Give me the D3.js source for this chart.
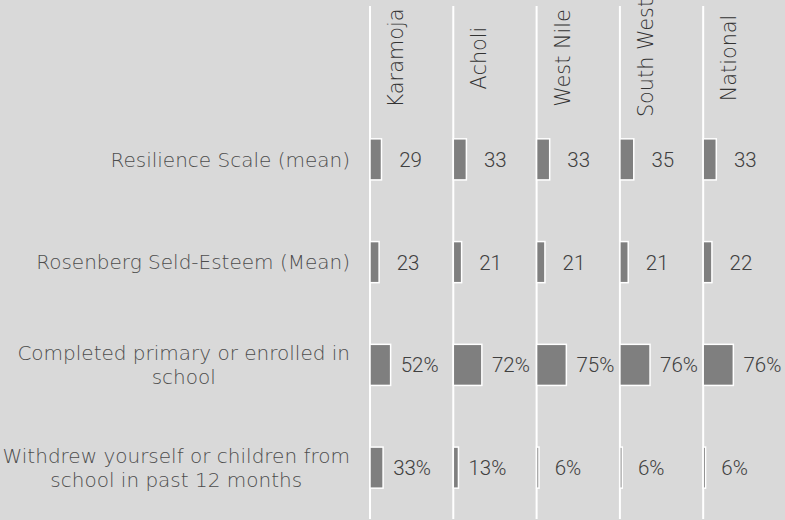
<!DOCTYPE html>
<html>
<head>
<meta charset="utf-8">
<script src="https://cdn.jsdelivr.net/npm/d3@7"></script>
<style>
  html, body { margin: 0; padding: 0; background: #d9d9d9; }
  svg { display: block; }
</style>
</head>
<body>
<svg id="chart" width="785" height="520"></svg>
<script>
// regions across the top, indicators down the side
const regions = ["Karamoja", "Acholi", "West Nile", "South West", "National"];
const indicatorLines = [
    ["Resilience Scale (mean)"],
    ["Rosenberg Seld-Esteem (Mean)"],
    ["Completed primary or enrolled in", "school"],
    ["Withdrew yourself or children from", "school in past 12 months"]
];
const resilience = [29, 33, 33, 35, 33];
const selfEsteem = [23, 21, 21, 21, 22];
const completed = [52, 72, 75, 76, 76];
const withdrew = [33, 13, 6, 6, 6];
const units = ["", "", "%", "%"];

const rows = [resilience, selfEsteem, completed, withdrew];

let svg = d3.select("#chart");

const plotLeft = 370, panelW = 83.3; // one panel per region
const plotTop = 6, headerBottom = 108, plotBottom = 519;

let xPanel = d3.scaleBand()
    .domain(regions)
    .range([plotLeft, plotLeft + panelW * regions.length]);

let xVal = d3.scaleLinear() //same value scale inside every panel
    .domain([0, 210])
    .range([0, panelW]);

let y = d3.scaleBand()
    .domain(d3.range(rows.length))
    .range([headerBottom, plotBottom])
    .paddingInner(0.6)
    .paddingOuter(0.3);

//white separators
svg.append("g").selectAll("line")
    .data(regions)
    .enter().append("line")
    .attr("x1", d => xPanel(d))
    .attr("x2", d => xPanel(d))
    .attr("y1", plotTop)
    .attr("y2", plotBottom)
    .attr("stroke", "#ffffff")
    .attr("stroke-width", 2);

//column headers, rotated
svg.append("g").selectAll("text")
    .data(regions)
    .enter().append("text")
    .attr("transform", d => `translate(${xPanel(d) + 33},${(plotTop + headerBottom) / 2 + 1}) rotate(-90)`)
    .attr("text-anchor", "middle")
    .attr("font-family", "'DejaVu Sans', sans-serif")
    .attr("font-weight", 200)
    .attr("font-size", 20.8)
    .attr("fill", "#333333")
    .text(d => d);

//row labels: block right aligned, lines centred inside it
let labelG = svg.append("g")
    .attr("font-family", "'DejaVu Sans', sans-serif")
    .attr("font-weight", 200)
    .attr("font-size", 20)
    .attr("fill", "#4d4d4d");

indicatorLines.forEach((lines, i) => {
    const cy = y(i) + y.bandwidth() / 2;
    const lineH = 24;
    let t = labelG.append("text").attr("text-anchor", "middle");
    let spans = t.selectAll("tspan")
        .data(lines)
        .enter().append("tspan")
        .attr("y", (d, k) => cy + (k - (lines.length - 1) / 2) * lineH)
        .attr("dy", "0.36em")
        .text(d => d);
    let maxW = d3.max(spans.nodes(), n => n.getComputedTextLength());
    spans.attr("x", 350 - maxW / 2);
});

//bars and value labels
rows.forEach((values, i) => {
    let g = svg.append("g");

    g.selectAll("rect")
        .data(values)
        .enter().append("rect")
        .attr("x", (d, j) => xPanel(regions[j]))
        .attr("y", y(i))
        .attr("width", d => xVal(d))
        .attr("height", y.bandwidth())
        .attr("fill", "#7f7f7f")
        .attr("stroke", "#ffffff")
        .attr("stroke-width", 1.5);

    g.selectAll("text")
        .data(values)
        .enter().append("text")
        .attr("x", (d, j) => xPanel(regions[j]) + xVal(d) + 29)
        .attr("y", y(i) + y.bandwidth() / 2)
        .attr("dy", "0.36em")
        .attr("text-anchor", "middle")
        .attr("font-family", "Roboto, sans-serif")
        .attr("font-weight", 300)
        .attr("font-size", 20.5)
        .attr("fill", "#404040")
        .text(d => d + units[i]);
});
</script>
</body>
</html>
